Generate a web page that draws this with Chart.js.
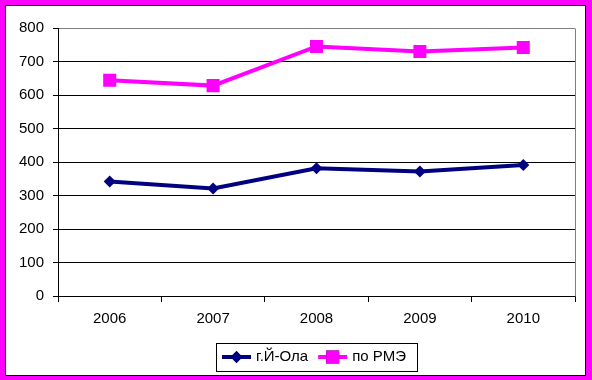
<!DOCTYPE html>
<html>
<head>
<meta charset="utf-8">
<script src="https://cdn.jsdelivr.net/npm/chart.js@4/dist/chart.umd.min.js"></script>
<style>
  html, body { margin: 0; padding: 0; }
  body { width: 592px; height: 380px; background: #FF00FF; position: relative; overflow: hidden; }
  #frame { position: absolute; left: 5px; top: 5px; width: 579px; height: 369px; border: 1px solid #000; background: #fff; }
  canvas { display: block; }
</style>
</head>
<body>
<div id="frame"><canvas id="c" width="579" height="369"></canvas></div>
<script>
const years = ['2006', '2007', '2008', '2009', '2010'];
const seriesNames = ['г.Й-Ола', 'по РМЭ'];
const yoshkarOla = [342, 321, 381, 372, 391];
const rme = [644, 628, 745, 730, 742];
const yTicks = [0, 100, 200, 300, 400, 500, 600, 700, 800];

const FONT = '"Liberation Sans", Arial, sans-serif';

const plotFrame = {
  id: 'plotFrame',
  beforeDatasetsDraw(chart) {
    const a = chart.chartArea, ctx = chart.ctx;
    ctx.save();
    ctx.strokeStyle = '#808080';
    ctx.lineWidth = 1;
    ctx.beginPath();
    ctx.moveTo(Math.round(a.right) + 0.5, Math.round(a.top) + 0.5);
    ctx.lineTo(Math.round(a.right) + 0.5, Math.round(a.bottom) + 0.5);
    ctx.stroke();
    ctx.restore();
  }
};

const boxLegend = {
  id: 'boxLegend',
  afterDraw(chart) {
    const ctx = chart.ctx, a = chart.chartArea;
    ctx.save();
    ctx.font = '15px ' + FONT;
    const sampleW = 29, textGap = 5, itemGap = 10, padL = 6, padR = 11;
    const items = chart.data.datasets.map(ds => ({ ds, tw: ctx.measureText(ds.label).width }));
    let total = padL + padR;
    items.forEach((it, i) => { total += sampleW + textGap + it.tw + (i < items.length - 1 ? itemGap : 0); });
    const cx = (a.left + a.right) / 2;
    const left = Math.round(cx - total / 2);
    const top = 337, h = 28;
    const cy = top + h / 2;
    ctx.strokeStyle = '#000';
    ctx.lineWidth = 1;
    ctx.strokeRect(left + 0.5, top + 0.5, Math.round(total), h);
    let x = left + padL;
    items.forEach((it) => {
      const ds = it.ds;
      ctx.strokeStyle = ds.borderColor;
      ctx.lineWidth = ds.borderWidth;
      ctx.beginPath();
      ctx.moveTo(x, cy);
      ctx.lineTo(x + sampleW, cy);
      ctx.stroke();
      Chart.helpers.drawPoint(ctx, {
        pointStyle: ds.pointStyle, radius: ds.pointRadius, borderWidth: 0, rotation: 0
      }, x + sampleW / 2, cy);
      ctx.fillStyle = ds.pointBackgroundColor;
      ctx.beginPath();
      const r = ds.pointRadius;
      if (ds.pointStyle === 'rect') {
        const s = Math.SQRT1_2 * r;
        ctx.fillRect(x + sampleW / 2 - s, cy - s, 2 * s, 2 * s);
      } else {
        ctx.moveTo(x + sampleW / 2, cy - r);
        ctx.lineTo(x + sampleW / 2 + r, cy);
        ctx.lineTo(x + sampleW / 2, cy + r);
        ctx.lineTo(x + sampleW / 2 - r, cy);
        ctx.closePath();
        ctx.fill();
      }
      x += sampleW + textGap;
      ctx.fillStyle = '#000';
      ctx.textBaseline = 'middle';
      ctx.textAlign = 'left';
      ctx.fillText(ds.label, x, cy);
      x += it.tw + itemGap;
    });
    ctx.restore();
  }
};

new Chart(document.getElementById('c'), {
  type: 'line',
  data: {
    labels: years,
    datasets: [
      {
        label: seriesNames[0], data: yoshkarOla,
        borderColor: '#000080', backgroundColor: '#000080',
        pointBackgroundColor: '#000080', pointBorderColor: '#000080',
        borderWidth: 4, pointStyle: 'rectRot', pointRadius: 6, pointBorderWidth: 0,
        tension: 0, fill: false
      },
      {
        label: seriesNames[1], data: rme,
        borderColor: '#FF00FF', backgroundColor: '#FF00FF',
        pointBackgroundColor: '#FF00FF', pointBorderColor: '#FF00FF',
        borderWidth: 4, pointStyle: 'rect', pointRadius: 9.2, pointBorderWidth: 0,
        tension: 0, fill: false
      }
    ]
  },
  options: {
    responsive: false,
    animation: false,
    devicePixelRatio: 1,
    layout: { padding: { top: 22, right: 10, left: 0, bottom: 0 } },
    plugins: { legend: { display: false }, tooltip: { enabled: false } },
    scales: {
      x: {
        offset: true,
        grid: { offset: true, drawOnChartArea: false, drawTicks: true, tickLength: 6, tickColor: '#000', color: '#000' },
        border: { display: true, color: '#000', width: 1 },
        ticks: { color: '#000', font: { family: FONT, size: 15 }, padding: 8, maxRotation: 0 },
        afterFit(s) { s.height = 79; }
      },
      y: {
        min: 0, max: 800,
        afterBuildTicks(s) { s.ticks = yTicks.map(v => ({ value: v })); },
        grid: {
          color: (c) => (c.tick && c.tick.value === 800 ? '#808080' : '#000'),
          tickColor: '#000', tickLength: 5, lineWidth: 1
        },
        border: { display: true, color: '#000', width: 1 },
        ticks: { color: '#000', font: { family: FONT, size: 15 }, padding: 9 },
        afterFit(s) { s.width = 52; }
      }
    }
  },
  plugins: [plotFrame, boxLegend]
});
</script>
</body>
</html>
